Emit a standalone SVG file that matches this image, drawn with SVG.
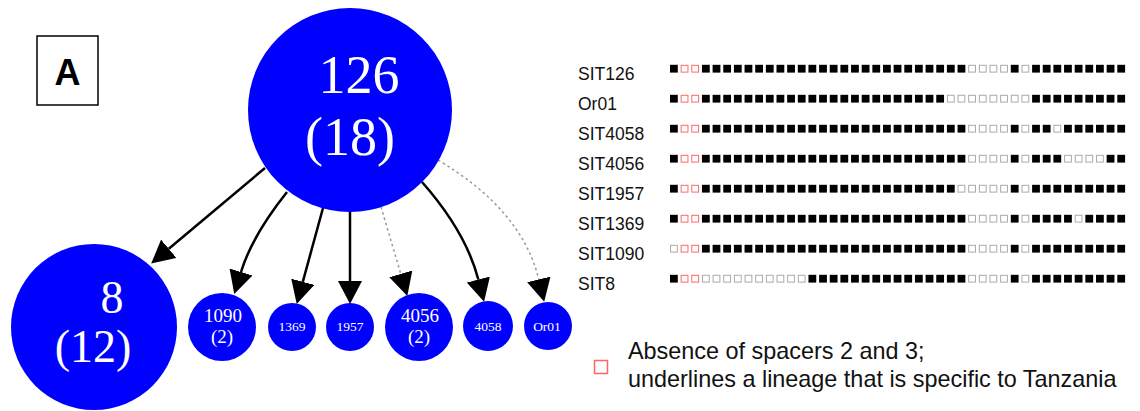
<svg xmlns="http://www.w3.org/2000/svg" xmlns:xlink="http://www.w3.org/1999/xlink" width="1140" height="411" viewBox="0 0 1140 411">
<style>
.node{fill:#0000ff}
.nt{fill:#fff;font-family:"Liberation Serif","Times New Roman",serif;text-anchor:middle}
.lab{font-family:"Liberation Sans",Arial,sans-serif;font-size:17.5px;fill:#111}
.leg{font-family:"Liberation Sans",Arial,sans-serif;font-size:23.4px;fill:#111}
.solid{fill:none;stroke:#000;stroke-width:2.5;marker-end:url(#ah)}
.dot{fill:none;stroke:#999;stroke-width:1.5;stroke-dasharray:2.5 3;marker-end:url(#ah)}
</style>
<defs>
<marker id="ah" markerUnits="userSpaceOnUse" markerWidth="23" markerHeight="24" refX="0" refY="12" orient="auto" viewBox="0 0 23 24">
<path d="M0,0 L23,12 L0,24 z" fill="#000"/>
</marker>
<rect id="f" x="0" y="-3.9" width="7.8" height="7.8" fill="#000"/>
<rect id="e" x="0.5" y="-3.4" width="6.8" height="6.8" fill="#fff" stroke="#aaa" stroke-width="1"/>
<rect id="r" x="0.5" y="-3.4" width="6.8" height="6.8" fill="#fff" stroke="#f66" stroke-width="1"/>
</defs>
<rect width="1140" height="411" fill="#fff"/>

<g id="panel-label">
<rect x="37" y="36" width="61" height="69" fill="none" stroke="#000" stroke-width="1.5"/>
<text x="67.5" y="85" font-family="Liberation Sans,Arial,sans-serif" font-weight="bold" font-size="36" text-anchor="middle">A</text>
</g>

<g id="connectors">
<path class="solid" d="M265,168 L168.8,248.8"/>
<path class="solid" d="M287,192 Q252,236 241,272"/>
<path class="solid" d="M323,208 L302.8,281.8"/>
<path class="solid" d="M350,212 L350,281"/>
<path class="dot" d="M381,207 L400.8,273.9"/>
<path class="solid" d="M422,182 Q466,232 478.3,279.5"/>
<path class="dot" d="M438,160 Q522,210 538.8,279.4"/>
</g>

<g id="n126">
<circle class="node" cx="350" cy="110" r="102"/>
<text class="nt" x="359" y="93" font-size="54">126</text>
<text class="nt" x="350" y="155" font-size="54">(18)</text>
</g>
<g id="n8">
<circle class="node" cx="94" cy="327" r="83"/>
<text class="nt" x="112" y="313" font-size="46">8</text>
<text class="nt" x="93" y="362" font-size="46">(12)</text>
</g>
<g id="n1090">
<circle class="node" cx="222" cy="327" r="34"/>
<text class="nt" x="223" y="322" font-size="19">1090</text>
<text class="nt" x="222" y="343" font-size="19">(2)</text>
</g>
<g id="n1369">
<circle class="node" cx="292" cy="327" r="24"/>
<text class="nt" x="292" y="331" font-size="13.5">1369</text>
</g>
<g id="n1957">
<circle class="node" cx="350" cy="327" r="24"/>
<text class="nt" x="350" y="331" font-size="13.5">1957</text>
</g>
<g id="n4056">
<circle class="node" cx="419" cy="327" r="34"/>
<text class="nt" x="420" y="322" font-size="19">4056</text>
<text class="nt" x="419" y="343" font-size="19">(2)</text>
</g>
<g id="n4058">
<circle class="node" cx="488" cy="326" r="25"/>
<text class="nt" x="488" y="331" font-size="13.5">4058</text>
</g>
<g id="nOr01">
<circle class="node" cx="548" cy="326" r="24"/>
<text class="nt" x="547" y="331" font-size="13.5">Or01</text>
</g>

<g id="labels">
<text class="lab" x="578" y="80">SIT126</text>
<text class="lab" x="578" y="110">Or01</text>
<text class="lab" x="578" y="140">SIT4058</text>
<text class="lab" x="578" y="170">SIT4056</text>
<text class="lab" x="578" y="200">SIT1957</text>
<text class="lab" x="578" y="230">SIT1369</text>
<text class="lab" x="578" y="260">SIT1090</text>
<text class="lab" x="578" y="290">SIT8</text>
</g>

<g id="row-SIT126" transform="translate(0,68.7)">
<use href="#f" x="670"/><use href="#r" x="680.65"/><use href="#r" x="691.3"/>
<use href="#f" x="701.95"/><use href="#f" x="712.6"/><use href="#f" x="723.25"/><use href="#f" x="733.9"/><use href="#f" x="744.55"/><use href="#f" x="755.2"/><use href="#f" x="765.85"/><use href="#f" x="776.5"/><use href="#f" x="787.15"/><use href="#f" x="797.8"/><use href="#f" x="808.45"/><use href="#f" x="819.1"/><use href="#f" x="829.75"/><use href="#f" x="840.4"/><use href="#f" x="851.05"/><use href="#f" x="861.7"/><use href="#f" x="872.35"/><use href="#f" x="883"/><use href="#f" x="893.65"/><use href="#f" x="904.3"/><use href="#f" x="914.95"/><use href="#f" x="925.6"/><use href="#f" x="936.25"/><use href="#f" x="946.9"/><use href="#f" x="957.55"/>
<use href="#e" x="968.2"/><use href="#e" x="978.85"/><use href="#e" x="989.5"/><use href="#e" x="1000.15"/>
<use href="#f" x="1010.8"/><use href="#e" x="1021.45"/>
<use href="#f" x="1032.1"/><use href="#f" x="1042.75"/><use href="#f" x="1053.4"/><use href="#f" x="1064.05"/><use href="#f" x="1074.7"/><use href="#f" x="1085.35"/><use href="#f" x="1096"/><use href="#f" x="1106.65"/><use href="#f" x="1117.3"/>
</g>

<g id="row-Or01" transform="translate(0,98.7)">
<use href="#f" x="670"/><use href="#r" x="680.65"/><use href="#r" x="691.3"/>
<use href="#f" x="701.95"/><use href="#f" x="712.6"/><use href="#f" x="723.25"/><use href="#f" x="733.9"/><use href="#f" x="744.55"/><use href="#f" x="755.2"/><use href="#f" x="765.85"/><use href="#f" x="776.5"/><use href="#f" x="787.15"/><use href="#f" x="797.8"/><use href="#f" x="808.45"/><use href="#f" x="819.1"/><use href="#f" x="829.75"/><use href="#f" x="840.4"/><use href="#f" x="851.05"/><use href="#f" x="861.7"/><use href="#f" x="872.35"/><use href="#f" x="883"/><use href="#f" x="893.65"/><use href="#f" x="904.3"/><use href="#f" x="914.95"/><use href="#f" x="925.6"/><use href="#f" x="936.25"/>
<use href="#e" x="946.9"/><use href="#e" x="957.55"/><use href="#e" x="968.2"/><use href="#e" x="978.85"/><use href="#e" x="989.5"/><use href="#e" x="1000.15"/><use href="#e" x="1010.8"/><use href="#e" x="1021.45"/>
<use href="#f" x="1032.1"/><use href="#f" x="1042.75"/><use href="#f" x="1053.4"/><use href="#f" x="1064.05"/><use href="#f" x="1074.7"/><use href="#f" x="1085.35"/><use href="#f" x="1096"/><use href="#f" x="1106.65"/><use href="#f" x="1117.3"/>
</g>

<g id="row-SIT4058" transform="translate(0,128.7)">
<use href="#f" x="670"/><use href="#r" x="680.65"/><use href="#r" x="691.3"/>
<use href="#f" x="701.95"/><use href="#f" x="712.6"/><use href="#f" x="723.25"/><use href="#f" x="733.9"/><use href="#f" x="744.55"/><use href="#f" x="755.2"/><use href="#f" x="765.85"/><use href="#f" x="776.5"/><use href="#f" x="787.15"/><use href="#f" x="797.8"/><use href="#f" x="808.45"/><use href="#f" x="819.1"/><use href="#f" x="829.75"/><use href="#f" x="840.4"/><use href="#f" x="851.05"/><use href="#f" x="861.7"/><use href="#f" x="872.35"/><use href="#f" x="883"/><use href="#f" x="893.65"/><use href="#f" x="904.3"/><use href="#f" x="914.95"/><use href="#f" x="925.6"/><use href="#f" x="936.25"/><use href="#f" x="946.9"/><use href="#f" x="957.55"/>
<use href="#e" x="968.2"/><use href="#e" x="978.85"/><use href="#e" x="989.5"/><use href="#e" x="1000.15"/>
<use href="#f" x="1010.8"/><use href="#e" x="1021.45"/>
<use href="#f" x="1032.1"/><use href="#f" x="1042.75"/><use href="#e" x="1053.4"/><use href="#f" x="1064.05"/><use href="#f" x="1074.7"/><use href="#f" x="1085.35"/><use href="#f" x="1096"/><use href="#f" x="1106.65"/><use href="#f" x="1117.3"/>
</g>

<g id="row-SIT4056" transform="translate(0,158.7)">
<use href="#f" x="670"/><use href="#r" x="680.65"/><use href="#r" x="691.3"/>
<use href="#f" x="701.95"/><use href="#f" x="712.6"/><use href="#f" x="723.25"/><use href="#f" x="733.9"/><use href="#f" x="744.55"/><use href="#f" x="755.2"/><use href="#f" x="765.85"/><use href="#f" x="776.5"/><use href="#f" x="787.15"/><use href="#f" x="797.8"/><use href="#f" x="808.45"/><use href="#f" x="819.1"/><use href="#f" x="829.75"/><use href="#f" x="840.4"/><use href="#f" x="851.05"/><use href="#f" x="861.7"/><use href="#f" x="872.35"/><use href="#f" x="883"/><use href="#f" x="893.65"/><use href="#f" x="904.3"/><use href="#f" x="914.95"/><use href="#f" x="925.6"/><use href="#f" x="936.25"/><use href="#f" x="946.9"/><use href="#f" x="957.55"/>
<use href="#e" x="968.2"/><use href="#e" x="978.85"/><use href="#e" x="989.5"/><use href="#e" x="1000.15"/>
<use href="#f" x="1010.8"/><use href="#e" x="1021.45"/>
<use href="#f" x="1032.1"/><use href="#f" x="1042.75"/><use href="#f" x="1053.4"/><use href="#e" x="1064.05"/><use href="#e" x="1074.7"/><use href="#e" x="1085.35"/><use href="#e" x="1096"/><use href="#f" x="1106.65"/><use href="#f" x="1117.3"/>
</g>

<g id="row-SIT1957" transform="translate(0,188.7)">
<use href="#f" x="670"/><use href="#r" x="680.65"/><use href="#r" x="691.3"/>
<use href="#f" x="701.95"/><use href="#f" x="712.6"/><use href="#f" x="723.25"/><use href="#f" x="733.9"/><use href="#f" x="744.55"/><use href="#f" x="755.2"/><use href="#f" x="765.85"/><use href="#f" x="776.5"/><use href="#f" x="787.15"/><use href="#f" x="797.8"/><use href="#f" x="808.45"/><use href="#f" x="819.1"/><use href="#f" x="829.75"/><use href="#f" x="840.4"/><use href="#f" x="851.05"/><use href="#f" x="861.7"/><use href="#f" x="872.35"/><use href="#f" x="883"/><use href="#f" x="893.65"/><use href="#f" x="904.3"/><use href="#f" x="914.95"/><use href="#f" x="925.6"/><use href="#f" x="936.25"/><use href="#f" x="946.9"/>
<use href="#e" x="957.55"/><use href="#e" x="968.2"/><use href="#e" x="978.85"/><use href="#e" x="989.5"/><use href="#e" x="1000.15"/>
<use href="#f" x="1010.8"/><use href="#e" x="1021.45"/>
<use href="#f" x="1032.1"/><use href="#f" x="1042.75"/><use href="#f" x="1053.4"/><use href="#f" x="1064.05"/><use href="#f" x="1074.7"/><use href="#f" x="1085.35"/><use href="#f" x="1096"/><use href="#f" x="1106.65"/><use href="#f" x="1117.3"/>
</g>

<g id="row-SIT1369" transform="translate(0,218.7)">
<use href="#f" x="670"/><use href="#r" x="680.65"/><use href="#r" x="691.3"/>
<use href="#f" x="701.95"/><use href="#f" x="712.6"/><use href="#f" x="723.25"/><use href="#f" x="733.9"/><use href="#f" x="744.55"/><use href="#f" x="755.2"/><use href="#f" x="765.85"/><use href="#f" x="776.5"/><use href="#f" x="787.15"/><use href="#f" x="797.8"/><use href="#f" x="808.45"/><use href="#f" x="819.1"/><use href="#f" x="829.75"/><use href="#f" x="840.4"/><use href="#f" x="851.05"/><use href="#f" x="861.7"/><use href="#f" x="872.35"/><use href="#f" x="883"/><use href="#f" x="893.65"/><use href="#f" x="904.3"/><use href="#f" x="914.95"/><use href="#f" x="925.6"/><use href="#f" x="936.25"/><use href="#f" x="946.9"/><use href="#f" x="957.55"/>
<use href="#e" x="968.2"/><use href="#e" x="978.85"/><use href="#e" x="989.5"/><use href="#e" x="1000.15"/>
<use href="#f" x="1010.8"/><use href="#e" x="1021.45"/>
<use href="#f" x="1032.1"/><use href="#f" x="1042.75"/><use href="#f" x="1053.4"/><use href="#f" x="1064.05"/><use href="#e" x="1074.7"/><use href="#f" x="1085.35"/><use href="#f" x="1096"/><use href="#f" x="1106.65"/><use href="#f" x="1117.3"/>
</g>

<g id="row-SIT1090" transform="translate(0,248.7)">
<use href="#e" x="670"/><use href="#r" x="680.65"/><use href="#r" x="691.3"/>
<use href="#f" x="701.95"/><use href="#f" x="712.6"/><use href="#f" x="723.25"/><use href="#f" x="733.9"/><use href="#f" x="744.55"/><use href="#f" x="755.2"/><use href="#f" x="765.85"/><use href="#f" x="776.5"/><use href="#f" x="787.15"/><use href="#f" x="797.8"/><use href="#f" x="808.45"/><use href="#f" x="819.1"/><use href="#f" x="829.75"/><use href="#f" x="840.4"/><use href="#f" x="851.05"/><use href="#f" x="861.7"/><use href="#f" x="872.35"/><use href="#f" x="883"/><use href="#f" x="893.65"/><use href="#f" x="904.3"/><use href="#f" x="914.95"/><use href="#f" x="925.6"/><use href="#f" x="936.25"/><use href="#f" x="946.9"/><use href="#f" x="957.55"/>
<use href="#e" x="968.2"/><use href="#e" x="978.85"/><use href="#e" x="989.5"/><use href="#e" x="1000.15"/>
<use href="#f" x="1010.8"/><use href="#e" x="1021.45"/>
<use href="#f" x="1032.1"/><use href="#f" x="1042.75"/><use href="#f" x="1053.4"/><use href="#f" x="1064.05"/><use href="#f" x="1074.7"/><use href="#f" x="1085.35"/><use href="#f" x="1096"/><use href="#f" x="1106.65"/><use href="#f" x="1117.3"/>
</g>

<g id="row-SIT8" transform="translate(0,278.7)">
<use href="#f" x="670"/><use href="#r" x="680.65"/><use href="#r" x="691.3"/>
<use href="#e" x="701.95"/><use href="#e" x="712.6"/><use href="#e" x="723.25"/><use href="#e" x="733.9"/><use href="#e" x="744.55"/><use href="#e" x="755.2"/><use href="#e" x="765.85"/><use href="#e" x="776.5"/><use href="#e" x="787.15"/><use href="#e" x="797.8"/>
<use href="#f" x="808.45"/><use href="#f" x="819.1"/><use href="#f" x="829.75"/><use href="#f" x="840.4"/><use href="#f" x="851.05"/><use href="#f" x="861.7"/><use href="#f" x="872.35"/><use href="#f" x="883"/><use href="#f" x="893.65"/><use href="#f" x="904.3"/><use href="#f" x="914.95"/><use href="#f" x="925.6"/><use href="#f" x="936.25"/><use href="#f" x="946.9"/><use href="#f" x="957.55"/>
<use href="#e" x="968.2"/><use href="#e" x="978.85"/><use href="#e" x="989.5"/><use href="#e" x="1000.15"/>
<use href="#f" x="1010.8"/><use href="#e" x="1021.45"/>
<use href="#f" x="1032.1"/><use href="#f" x="1042.75"/><use href="#f" x="1053.4"/><use href="#f" x="1064.05"/><use href="#f" x="1074.7"/><use href="#f" x="1085.35"/><use href="#f" x="1096"/><use href="#f" x="1106.65"/><use href="#f" x="1117.3"/>
</g>

<g id="legend">
<rect x="594.5" y="360.5" width="13" height="13" fill="#fff" stroke="#f66" stroke-width="1.5"/>
<text class="leg" x="628" y="359">Absence of spacers 2 and 3;</text>
<text class="leg" x="628" y="387">underlines a lineage that is specific to Tanzania</text>
</g>
</svg>
